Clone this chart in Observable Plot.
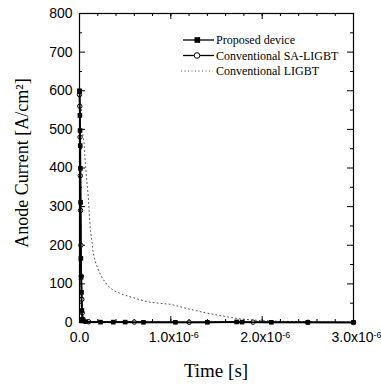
<!DOCTYPE html>
<html><head><meta charset="utf-8">
<script src="https://cdn.jsdelivr.net/npm/d3@7"></script>
<script src="https://cdn.jsdelivr.net/npm/@observablehq/plot@0.6"></script>
<style>body{margin:0;background:#fff}#chart{width:381px;height:385px}</style>
</head><body><div id="chart"></div>
<script>
// Data (time in seconds, current in A/cm^2)
const proposedTime = [0, 0.002e-6, 0.004e-6, 0.006e-6, 0.008e-6, 0.010e-6, 0.012e-6, 0.015e-6, 0.018e-6, 0.022e-6, 0.026e-6, 0.030e-6, 0.035e-6, 0.07e-6, 0.23e-6, 0.37e-6, 0.5e-6, 0.7e-6, 1.05e-6, 1.4e-6, 1.72e-6, 1.78e-6, 2.1e-6, 2.5e-6, 3.0e-6];
const proposedCurrent = [600, 598, 536, 497, 458, 399, 311, 166, 117, 78, 31, 8, 4, 2, 1, 1, 1, 0.5, 0.5, 0.5, 1.5, 1, 0.5, 0.3, 0.5];
const saTime = [0, 0.003e-6, 0.006e-6, 0.009e-6, 0.012e-6, 0.015e-6, 0.02e-6, 0.025e-6, 0.03e-6, 0.04e-6, 0.1e-6, 0.6e-6, 1.2e-6, 1.9e-6, 2.5e-6, 3.0e-6];
const saCurrent = [590, 560, 480, 380, 290, 200, 120, 60, 25, 8, 2, 1, 0.5, 1, 0.5, 0.2];
const ligbtTime = [0, 0.035e-6, 0.051e-6, 0.062e-6, 0.077e-6, 0.088e-6, 0.099e-6, 0.106e-6, 0.12e-6, 0.135e-6, 0.15e-6, 0.179e-6, 0.208e-6, 0.252e-6, 0.307e-6, 0.37e-6, 0.48e-6, 0.69e-6, 0.78e-6, 1.0e-6, 1.18e-6, 1.36e-6, 1.54e-6, 1.73e-6, 1.98e-6, 2.2e-6, 2.6e-6, 3.0e-6];
const ligbtCurrent = [490, 488, 463, 419, 375, 347, 316, 285, 238, 212, 181, 153, 135, 114, 96, 83, 72, 57, 52, 47, 36, 26, 18, 10, 5, 3, 1.5, 1];
const xTickValues = [0, 1e-6, 2e-6, 3e-6];
const xTickLabels = ["0.0", "1.0x10^-6", "2.0x10^-6", "3.0x10^-6"];
const xMinorTicks = d3.range(0, 3.0001e-6, 0.2e-6);
const yTickValues = [0, 100, 200, 300, 400, 500, 600, 700, 800];
const yMinorTicks = d3.range(50, 800, 100);
const seriesNames = ["Proposed device", "Conventional SA-LIGBT", "Conventional LIGBT"];

const proposed = proposedTime.map((t, i) => ({t, v: proposedCurrent[i]}));
const sa = saTime.map((t, i) => ({t, v: saCurrent[i]}));
const ligbt = ligbtTime.map((t, i) => ({t, v: ligbtCurrent[i]}));

const W = 381, H = 385, mL = 79, mR = 28, mT = 13, mB = 63;
const pw = W - mL - mR, ph = H - mT - mB;

const svg = Plot.plot({
  width: W, height: H,
  marginLeft: mL, marginRight: mR, marginTop: mT, marginBottom: mB,
  style: {background: "#fff", color: "#000"},
  x: {domain: [0, 3e-6]},
  y: {domain: [0, 800]},
  marks: [
    Plot.axisX({ticks: xTickValues, tickSize: 0, tickPadding: 10, fontSize: 14, label: null,
      tickFormat: (d) => xTickLabels[xTickValues.findIndex(v => Math.abs(v - d) < 1e-12)]}),
    Plot.axisY({ticks: yTickValues, tickSize: 0, tickPadding: 7, fontSize: 14, label: null, tickFormat: d => String(d)}),
    // inward ticks
    Plot.tickX(xTickValues, {x: d => d, insetTop: ph - 6, stroke: "#000"}),
    Plot.tickX(xTickValues, {x: d => d, insetBottom: ph - 6, stroke: "#000"}),
    Plot.tickX(xMinorTicks, {x: d => d, insetTop: ph - 3, stroke: "#000"}),
    Plot.tickX(xMinorTicks, {x: d => d, insetBottom: ph - 3, stroke: "#000"}),
    Plot.tickY(yTickValues, {y: d => d, insetRight: pw - 6, stroke: "#000"}),
    Plot.tickY(yTickValues, {y: d => d, insetLeft: pw - 6, stroke: "#000"}),
    Plot.tickY(yMinorTicks, {y: d => d, insetRight: pw - 3, stroke: "#000"}),
    Plot.tickY(yMinorTicks, {y: d => d, insetLeft: pw - 3, stroke: "#000"}),
    // LIGBT dotted
    Plot.line(ligbt, {x: "t", y: "v", stroke: "#555", strokeWidth: 1, strokeDasharray: "1,3"}),
    // SA-LIGBT
    Plot.line(sa, {x: "t", y: "v", stroke: "#000", strokeWidth: 1.5}),
    Plot.dot(sa, {x: "t", y: "v", r: 2.2, stroke: "#000", fill: "#fff", strokeWidth: 1}),
    // Proposed
    Plot.line(proposed, {x: "t", y: "v", stroke: "#000", strokeWidth: 1.8}),
    Plot.dot(proposed, {x: "t", y: "v", symbol: "square", r: 2.6, fill: "#000", stroke: "none"}),
    Plot.frame({stroke: "#000", strokeWidth: 1.2})
  ]
});

const s = d3.select(svg);
s.style("font-family", "'Liberation Sans', Arial, sans-serif");
// superscripts on x tick labels
s.selectAll('g[aria-label="x-axis tick label"] text').each(function() {
  const txt = this.textContent;
  if (txt.includes("^")) {
    const [a, b] = txt.split("^");
    const el = d3.select(this);
    el.text("");
    el.append("tspan").text(a);
    el.append("tspan").attr("dy", "-0.55em").attr("font-size", "9px").text(b);
    const tr = el.attr("transform") || "";
    el.attr("transform", tr + " translate(3,0)");
  }
});

// axis titles
const serif = "'Liberation Serif', 'Times New Roman', serif";
s.append("text").attr("x", 216).attr("y", 377).attr("text-anchor", "middle")
  .attr("font-family", serif).attr("font-size", 19).attr("fill", "#000").text("Time [s]");
s.append("text").attr("transform", "translate(28,163) rotate(-90)").attr("text-anchor", "middle")
  .attr("font-family", serif).attr("font-size", 18).attr("fill", "#000").text("Anode Current [A/cm²]");

// legend
const lg = s.append("g").attr("font-family", serif).attr("font-size", 12).attr("fill", "#000").attr("text-anchor", "start");
const rows = [40, 55.5, 71];
seriesNames.forEach((name, i) => {
  const y = rows[i];
  if (i < 2) {
    lg.append("line").attr("x1", 183).attr("x2", 214).attr("y1", y).attr("y2", y).attr("stroke", "#000").attr("stroke-width", 1.3);
  } else {
    lg.append("line").attr("x1", 181).attr("x2", 213).attr("y1", y).attr("y2", y).attr("stroke", "#555").attr("stroke-dasharray", "1,2.5");
  }
  if (i === 0) lg.append("rect").attr("x", 194.5).attr("y", y - 2.8).attr("width", 5.6).attr("height", 5.6).attr("fill", "#000");
  if (i === 1) lg.append("circle").attr("cx", 197).attr("cy", y).attr("r", 2.8).attr("fill", "#fff").attr("stroke", "#000");
  lg.append("text").attr("x", 216).attr("y", y + 4).attr("text-anchor", "start").text(name);
});

document.getElementById("chart").appendChild(svg);
</script>
</body></html>
